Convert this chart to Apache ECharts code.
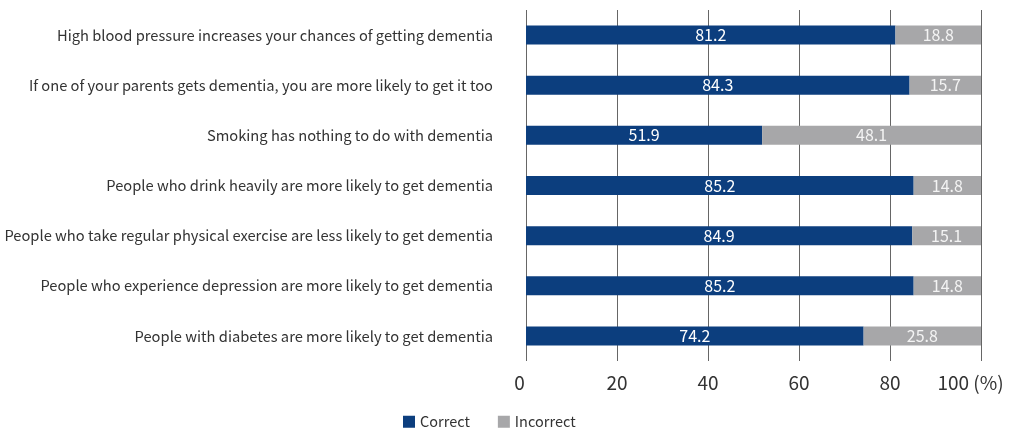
<!DOCTYPE html>
<html>
<head>
<meta charset="utf-8">
<script src="https://cdn.jsdelivr.net/npm/echarts@6/dist/echarts.min.js"></script>
<style>
html,body{margin:0;padding:0;background:#fff;}
#chart{width:1013px;height:431px;}
</style>
</head>
<body>
<div id="chart"></div>
<script>
const categories = [
  'High blood pressure increases your chances of getting dementia',
  'If one of your parents gets dementia, you are more likely to get it too',
  'Smoking has nothing to do with dementia',
  'People who drink heavily are more likely to get dementia',
  'People who take regular physical exercise are less likely to get dementia',
  'People who experience depression are more likely to get dementia',
  'People with diabetes are more likely to get dementia'
];
const correct = [81.2, 84.3, 51.9, 85.2, 84.9, 85.2, 74.2];
const incorrect = [18.8, 15.7, 48.1, 14.8, 15.1, 14.8, 25.8];
const seriesNames = ['Correct', 'Incorrect'];

const FONT = '"Noto Sans CJK KR", "Noto Sans", sans-serif';
const chart = echarts.init(document.getElementById('chart'), null, {renderer: 'canvas'});
chart.setOption({
  animation: false,
  textStyle: {fontFamily: FONT},
  grid: {left: 526, right: 32, top: 10, bottom: 70, containLabel: false, outerBoundsMode: 'none'},
  legend: {
    left: 398, bottom: -3,
    itemWidth: 12, itemHeight: 12, itemGap: 28,
    icon: 'rect',
    textStyle: {fontFamily: FONT, fontSize: 14.5, color: '#333'},
    data: seriesNames
  },
  xAxis: {
    type: 'value', min: 0, max: 100, interval: 20,
    axisLine: {show: false},
    axisTick: {show: false},
    splitLine: {show: true, lineStyle: {color: '#666', width: 1}},
    axisLabel: {
      fontFamily: FONT, fontSize: 19, color: '#333', margin: 12,
      formatter: function (v) {
        if (v === 100) return '{e|100 (%)}';
        if (v === 0) return '{z|0}';
        return String(v);
      },
      rich: {
        e: {fontFamily: FONT, fontSize: 19, color: '#333', padding: [0, 21, 0, 0]},
        z: {fontFamily: FONT, fontSize: 19, color: '#333', padding: [0, 13, 0, 0]}
      }
    }
  },
  yAxis: {
    type: 'category', inverse: true, data: categories,
    axisLine: {show: false},
    axisTick: {show: false},
    axisLabel: {fontFamily: FONT, fontSize: 14.7, color: '#333', margin: 33}
  },
  series: [
    {
      name: seriesNames[0], type: 'bar', stack: 'total', barWidth: 19,
      data: correct,
      itemStyle: {color: '#0c3e7e'},
      label: {show: true, position: 'inside', color: '#ffffff', fontSize: 16, fontFamily: FONT,
        formatter: p => p.value.toFixed(1)}
    },
    {
      name: seriesNames[1], type: 'bar', stack: 'total', barWidth: 19,
      data: incorrect,
      itemStyle: {color: '#a7a7a9'},
      label: {show: true, position: 'inside', color: '#f4f4f4', fontSize: 16, fontFamily: FONT,
        formatter: p => p.value.toFixed(1)}
    }
  ]
});
</script>
</body>
</html>
